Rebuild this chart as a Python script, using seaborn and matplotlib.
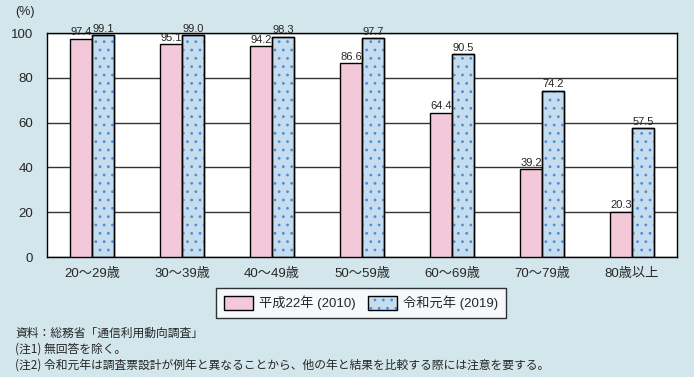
import matplotlib
matplotlib.use("Agg")
import matplotlib.pyplot as plt
import matplotlib.colors as mcolors
import seaborn as sns
import pandas as pd
from matplotlib.patches import Patch, Rectangle

# データ
age_groups = ["20～29歳", "30～39歳", "40～49歳", "50～59歳", "60～69歳", "70～79歳", "80歳以上"]
series_names = ["平成22年 (2010)", "令和元年 (2019)"]
vals_2010 = [97.4, 95.1, 94.2, 86.6, 64.4, 39.2, 20.3]
vals_2019 = [99.1, 99.0, 98.3, 97.7, 90.5, 74.2, 57.5]
y_ticks = [0, 20, 40, 60, 80, 100]
notes = [
    "資料：総務省「通信利用動向調査」",
    "(注1) 無回答を除く。",
    "(注2) 令和元年は調査票設計が例年と異なることから、他の年と結果を比較する際には注意を要する。",
]

df = pd.DataFrame({
    "age": age_groups * 2,
    "series": [series_names[0]] * len(age_groups) + [series_names[1]] * len(age_groups),
    "value": vals_2010 + vals_2019,
})

bg = "#d3e6ec"
pink = "#f3c9d9"
blue = "#c6ddf0"
dot = "#4d8fd6"

sns.set_style("white")
plt.rcParams["font.family"] = ["Liberation Sans", "Noto Sans CJK JP"]
plt.rcParams["hatch.linewidth"] = 0.8

fig = plt.figure(figsize=(6.94, 3.77), dpi=100, facecolor=bg)
ax = fig.add_axes([47 / 694, 1 - 257 / 377, 630 / 694, 224 / 377])

sns.barplot(data=df, x="age", y="value", hue="series", palette=[pink, blue],
            width=0.49, gap=0, edgecolor="black", linewidth=1, saturation=1,
            legend=False, ax=ax, zorder=3)

# 令和元年の棒にドット模様
for p in ax.containers[1]:
    ax.add_patch(Rectangle(p.get_xy(), p.get_width(), p.get_height(), fill=False,
                           hatch="..", edgecolor=dot, linewidth=0, zorder=3.5))
    ax.add_patch(Rectangle(p.get_xy(), p.get_width(), p.get_height(), fill=False,
                           edgecolor="black", linewidth=1, zorder=4))

for c in ax.containers:
    ax.bar_label(c, fmt="%.1f", padding=1, fontsize=8)

ax.set_ylim(0, 100)
ax.set_yticks(y_ticks)
ax.yaxis.grid(True, color="#333333", linewidth=1)
ax.set_axisbelow(True)
ax.tick_params(axis="both", length=0, labelsize=9.5)
ax.tick_params(axis="x", pad=8)
ax.tick_params(axis="y", pad=10)
ax.set_xlabel("")
ax.set_ylabel("")
for s in ax.spines.values():
    s.set_color("black")
    s.set_linewidth(1)
ax.text(-0.035, 1.08, "(%)", transform=ax.transAxes, fontsize=9, ha="center")

handles = [
    Patch(facecolor=pink, edgecolor="black", label=series_names[0]),
    Patch(facecolor=blue, edgecolor="black", hatch="..", label=series_names[1]),
]
leg = fig.legend(handles=handles, loc="center", bbox_to_anchor=(361 / 694, 1 - 303 / 377),
                 ncol=2, fontsize=9.5, frameon=True, fancybox=False, edgecolor="black",
                 handlelength=2.2, handleheight=1.2, handletextpad=0.4,
                 columnspacing=1.0, borderpad=0.6)
leg.get_frame().set_linewidth(1)
h = leg.legend_handles[1]
h._hatch_color = mcolors.to_rgba(dot)

for i, t in enumerate(notes):
    fig.text(15 / 694, 1 - (333 + 16 * i) / 377, t, fontsize=8.5, va="center",
             family=["Noto Sans CJK JP"])

fig.savefig("out.png", dpi=100, facecolor=bg)
